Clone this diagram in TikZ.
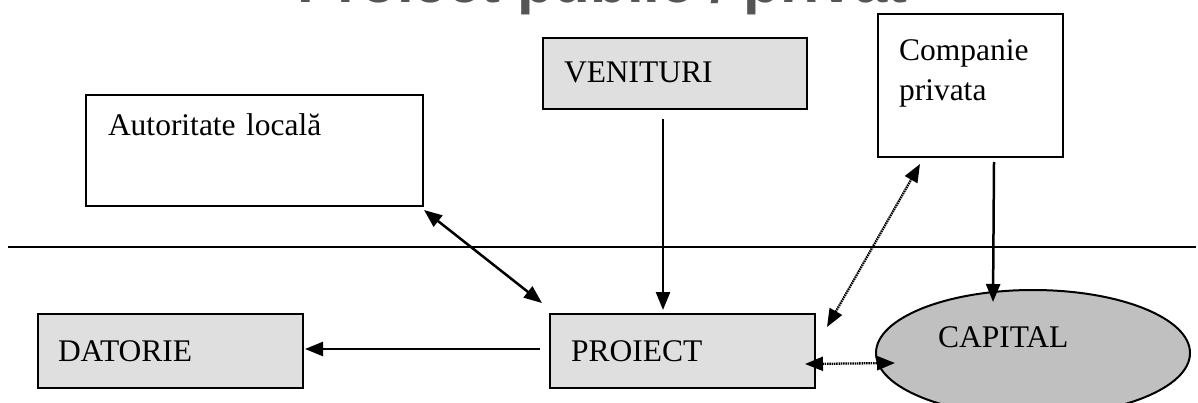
\documentclass[tikz,border=0pt]{standalone}
\usepackage{fontspec}
\setmainfont{Liberation Serif}
\newfontfamily\titlefont{Liberation Sans}
\usetikzlibrary{arrows.meta,shapes.geometric}
\definecolor{boxgray}{HTML}{DFDFDF}
\definecolor{capgray}{HTML}{C0C0C0}
\definecolor{titlegray}{HTML}{555555}
\begin{document}
\begin{tikzpicture}[x=1pt,y=-1pt,
  every node/.style={font=\fontsize{31.5}{40}\selectfont},
  box/.style={draw, line width=2pt, inner ysep=0pt, anchor=north west, align=left},
  tip/.style={Triangle[length=18pt,width=14pt]},
  conn/.style={line width=2.5pt, -{Triangle[length=18pt,width=14pt]}},
  bconn/.style={line width=2.5pt, {Triangle[length=18pt,width=14pt]}-{Triangle[length=18pt,width=14pt]}},
  dconn/.style={line width=2.3pt, dash pattern=on 1.5pt off 0.8pt, {Triangle[length=18pt,width=14pt]}-{Triangle[length=18pt,width=14pt]}}]
\useasboundingbox (0,0) rectangle (1198,403);
\clip (0,0) rectangle (1198,403);
% clipped title
\node[anchor=base west, inner sep=0pt, text=titlegray, font=\titlefont\bfseries\fontsize{60}{60}\selectfont] (title) at (297,2.5) {Proiect public / privat};
% separator line
\coordinate (hl) at (8,247);
\coordinate (hr) at (1196,247);
\draw[line width=2.6pt] (hl) -- (hr);
% boxes
\node[box, fill=white, inner xsep=22pt, text width=293pt, text height=41pt, text depth=70pt] (aut) at (85,94) {Autoritate locală};
\node[box, fill=boxgray, inner xsep=21pt, text width=222pt, text height=45pt, text depth=26pt] (ven) at (542,37) {VENITURI};
\node[box, fill=white, inner xsep=21pt, text width=143pt, text height=47pt, text depth=96pt] (comp) at (877,13) {Companie\\privata};
\node[box, fill=boxgray, inner xsep=20pt, text width=225pt, text height=47pt, text depth=27pt] (dat) at (37,313) {DATORIE};
\node[box, fill=boxgray, inner xsep=21pt, text width=223pt, text height=47pt, text depth=27pt] (proj) at (549,313) {PROIECT};
\node[ellipse, draw, line width=2pt, fill=capgray, inner sep=0pt, minimum width=314pt, minimum height=126pt, text width=190pt, align=left, text height=22pt, text depth=34pt] (cap) at (1033,353) {CAPITAL};
% connectors
\draw[conn] ([xshift=-12pt,yshift=-9pt]ven.south) -- ([xshift=-19.5pt,yshift=3pt]proj.north);
\draw[conn] ([xshift=-9pt,yshift=2pt]proj.west) -- ([xshift=1pt,yshift=2pt]dat.east);
\draw[bconn] ([yshift=-3pt]aut.south east) -- ([xshift=-7pt,yshift=10pt]proj.north west);
\draw[dconn] ([xshift=11pt,yshift=-14pt]proj.north east) -- ([xshift=43pt,yshift=-6pt]comp.south west);
\draw[conn] ([xshift=23.5pt,yshift=-4pt]comp.south) -- ([xshift=-40pt,yshift=-13pt]cap.north);
\draw[dconn] ([xshift=-11pt,yshift=-13pt]proj.east) -- ([xshift=20pt,yshift=-10pt]cap.west);
\end{tikzpicture}
\end{document}
